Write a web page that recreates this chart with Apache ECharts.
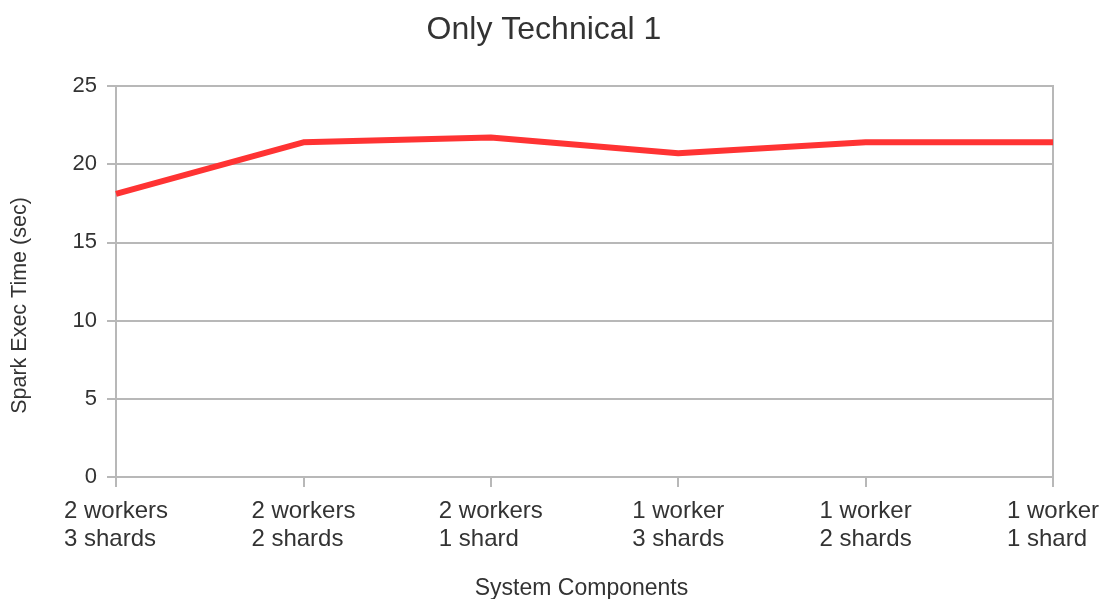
<!DOCTYPE html>
<html>
<head>
<meta charset="utf-8">
<script src="https://cdn.jsdelivr.net/npm/echarts@6/dist/echarts.min.js"></script>
<style>
  html, body { margin: 0; padding: 0; background: #fff; }
  #chart { width: 1106px; height: 599px; }
</style>
</head>
<body>
<div id="chart"></div>
<script>
var categories = [
  "2 workers\n3 shards",
  "2 workers\n2 shards",
  "2 workers\n1 shard",
  "1 worker\n3 shards",
  "1 worker\n2 shards",
  "1 worker\n1 shard"
];
var execTime = [18.1, 21.4, 21.7, 20.7, 21.4, 21.4];

var font = "'Liberation Sans', Arial, sans-serif";
var gridColor = "#b8b8b8";
var labelSize = 24;

// lines inside each category label are left aligned, the block is centred on the tick
var ctx = document.createElement("canvas").getContext("2d");
ctx.font = labelSize + "px " + font;
function blockWidth(value) {
  return Math.round(Math.max.apply(null, value.split("\n").map(function (s) {
    return ctx.measureText(s).width;
  })));
}
var richStyles = {};
categories.forEach(function (c) {
  var w = blockWidth(c);
  richStyles["l" + w] = {
    width: w, align: "left",
    fontFamily: font, fontSize: labelSize, color: "#333", lineHeight: 28
  };
});
function blockLabel(value) {
  var key = "l" + blockWidth(value);
  return value.split("\n").map(function (s) { return "{" + key + "|" + s + "}"; }).join("\n");
}

var chart = echarts.init(document.getElementById("chart"));
chart.setOption({
  animation: false,
  title: {
    text: "Only Technical 1",
    left: 539,
    textAlign: "center",
    top: 9,
    textStyle: { fontFamily: font, fontSize: 32, fontWeight: "normal", color: "#333" }
  },
  grid: {
    left: 116, right: 53, top: 86, bottom: 122,
    containLabel: false, outerBoundsMode: "none",
    show: true, borderColor: gridColor, borderWidth: 2
  },
  xAxis: {
    type: "category",
    data: categories,
    boundaryGap: false,
    name: "System Components",
    nameLocation: "middle",
    nameGap: 100,
    nameTextStyle: { fontFamily: font, fontSize: 23, color: "#333", padding: [0, 6, 0, 0] },
    axisLine: { lineStyle: { color: gridColor, width: 2 } },
    axisTick: { show: true, length: 10, interval: 0, lineStyle: { color: gridColor, width: 2 } },
    axisLabel: {
      interval: 0, hideOverlap: false,
      fontFamily: font, fontSize: labelSize, color: "#333", lineHeight: 28, margin: 20,
      formatter: blockLabel, rich: richStyles
    },
    splitLine: { show: false }
  },
  yAxis: {
    type: "value",
    min: 0, max: 25, interval: 5,
    name: "Spark Exec Time (sec)",
    nameLocation: "middle",
    nameGap: 85,
    nameRotate: 90,
    nameTextStyle: { fontFamily: font, fontSize: 21.5, color: "#333", padding: [0, 48, 0, 0] },
    axisLine: { show: true, lineStyle: { color: gridColor, width: 2 } },
    axisTick: { show: true, length: 9, lineStyle: { color: gridColor, width: 2 } },
    axisLabel: { fontFamily: font, fontSize: 22, color: "#333", margin: 19 },
    splitLine: { show: true, lineStyle: { color: gridColor, width: 2 } }
  },
  series: [{
    type: "line",
    data: execTime,
    symbol: "none",
    lineStyle: { color: "#ff3333", width: 6 },
    itemStyle: { color: "#ff3333" }
  }]
});
</script>
</body>
</html>
